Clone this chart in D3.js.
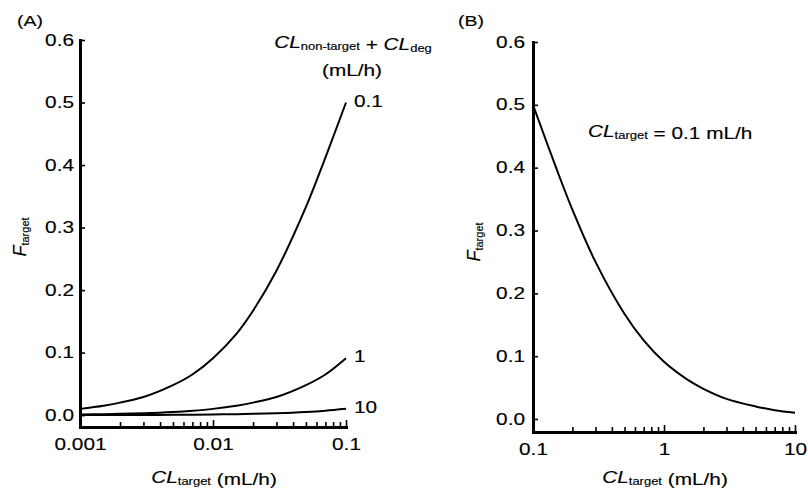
<!DOCTYPE html>
<html>
<head>
<meta charset="utf-8">
<script src="https://cdn.jsdelivr.net/npm/d3@7"></script>
<style>
  html, body { margin: 0; padding: 0; background: #fff; }
  svg { display: block; font-family: "Liberation Sans", Arial, sans-serif; }
  svg text { stroke: #000; stroke-width: 0.15; }
  .tick line { stroke: #000; stroke-width: 1.6; }
  .domain { stroke: #000; stroke-width: 3; stroke-linecap: square; }
  .curve { fill: none; stroke: #000; stroke-width: 2; }
</style>
</head>
<body>
<svg id="chart" width="808" height="491"></svg>
<script>
// ── Data ──────────────────────────────────────────────
// (A) F_target vs CL_target, one curve per CL_non-target + CL_deg
const clTarget = [0.001, 0.0015, 0.002, 0.003, 0.005, 0.007, 0.01, 0.015, 0.02, 0.03, 0.05, 0.07, 0.1];
const fOther01 = [0.010, 0.015, 0.020, 0.029, 0.048, 0.065, 0.091, 0.130, 0.167, 0.231, 0.333, 0.412, 0.500];
const fOther1  = [0.001, 0.0015, 0.002, 0.003, 0.005, 0.007, 0.010, 0.015, 0.020, 0.029, 0.048, 0.065, 0.091];
const fOther10 = [0.0001, 0.00015, 0.0002, 0.0003, 0.0005, 0.0007, 0.001, 0.0015, 0.002, 0.003, 0.005, 0.007, 0.010];
const otherLabels = ['0.1', '1', '10'];

// (B) F_target vs clearance, CL_target = 0.1 mL/h
const clB = [0.1, 0.15, 0.2, 0.3, 0.5, 0.7, 1, 1.5, 2, 3, 5, 7, 10];
const fB  = [0.500, 0.400, 0.333, 0.250, 0.167, 0.125, 0.091, 0.063, 0.048, 0.032, 0.020, 0.014, 0.010];

const yTicks = [0, 0.1, 0.2, 0.3, 0.4, 0.5, 0.6];
const xLabelsA = ['0.001', '0.01', '0.1'];
const xLabelsB = ['0.1', '1', '10'];

// ═══════════════════════════════════════════════════════
const svg = d3.select('#chart');
const SX = 1.3; // the scanned figure's type is wide

function stretch(sel) {
  sel.each(function () {
    const t = d3.select(this);
    const x = +t.attr('x') || 0, y = +t.attr('y') || 0;
    t.attr('x', null).attr('y', null)
      .attr('transform', `translate(${x},${y}) scale(${SX},1)`);
  });
}

function label(parent, x, y, parts, opts = {}) {
  const t = parent.append('text')
    .attr('x', x).attr('y', y)
    .attr('font-size', opts.size || 16)
    .attr('text-anchor', opts.anchor || 'start')
    .attr('fill', '#000');
  parts.forEach(p => {
    const ts = t.append('tspan').text(p.t);
    if (p.i) ts.attr('font-style', 'italic');
    if (p.sub) ts.attr('font-size', p.sub).attr('dy', p.dy || 2);
    if (p.up) ts.attr('dy', -p.up);
  });
  if (!opts.rotate) stretch(t);
  return t;
}

function panel(cfg) {
  const g = svg.append('g');
  const x = d3.scaleLog().domain(cfg.xDomain).range(cfg.xRange);
  const y = d3.scaleLinear().domain(cfg.yDomain).range(cfg.yRange);

  const isDecade = d => Math.abs(Math.log10(d) - Math.round(Math.log10(d))) < 1e-9;
  const decades = x.ticks().filter(isDecade);

  // y axis
  const gy = g.append('g')
    .attr('transform', `translate(${cfg.xRange[0]},0)`)
    .call(d3.axisLeft(y).tickValues(yTicks).tickFormat(d3.format('.1f'))
      .tickSizeInner(-5).tickSizeOuter(0).tickPadding(cfg.yPad));
  gy.selectAll('.tick text').attr('font-size', 16).attr('fill', '#000').attr('font-family', null)
    .each(function () {
      const t = d3.select(this);
      const xx = +t.attr('x');
      t.attr('x', null).attr('transform', `translate(${xx},0) scale(${SX},1)`);
    });

  // x axis
  const gx = g.append('g')
    .attr('transform', `translate(0,${cfg.yRange[0]})`)
    .call(d3.axisBottom(x).tickValues(x.ticks())
      .tickFormat(d => isDecade(d) ? cfg.xLabels[decades.indexOf(d)] : '')
      .tickSizeInner(-5).tickSizeOuter(0).tickPadding(12));
  gx.selectAll('.tick line').attr('y2', d => isDecade(d) ? -7 : -5);
  gx.selectAll('.tick text').attr('font-size', 16).attr('fill', '#000').attr('font-family', null)
    .each(function () {
      const t = d3.select(this);
      const yy = +t.attr('y');
      t.attr('y', null).attr('transform', `translate(0,${yy}) scale(${SX},1)`);
    });
  g.selectAll('.domain').attr('stroke', '#000');

  // curves
  const line = d3.line()
    .x(d => x(d[0])).y(d => y(d[1]))
    .curve(d3.curveCatmullRom.alpha(0.5));
  cfg.series.forEach((s, i) => {
    const pts = cfg.xs.map((v, k) => [v, s[k]]);
    g.append('path').attr('class', 'curve').attr('d', line(pts));
    if (cfg.seriesLabels) {
      const last = pts[pts.length - 1];
      label(g, x(last[0]) + 8, y(last[1]) + 4, [{ t: cfg.seriesLabels[i] }], { size: 16 });
    }
  });

  // axis titles
  const mid = (cfg.xRange[0] + cfg.xRange[1]) / 2;
  label(g, mid + 1, 483, [{ t: 'CL', i: true }, { t: 'target', sub: 10 }, { t: ' (mL/h)', dy: -2 }], { anchor: 'middle' });
  g.append('text')
    .attr('transform', `translate(${cfg.yTitleX},${cfg.yTitleY}) rotate(-90)`)
    .attr('text-anchor', 'middle').attr('font-size', 18).attr('fill', '#000')
    .call(t => {
      t.append('tspan').attr('font-style', 'italic').text('F');
      t.append('tspan').attr('font-size', 11).attr('dy', 3).text('target');
    });

  label(g, cfg.tagX, 26, [{ t: cfg.tag }], { size: 15 });
  return { g, x, y };
}

const A = panel({
  xDomain: [0.001, 0.1], xRange: [80, 346],
  yDomain: [-0.019, 0.6], yRange: [427, 40],
  yPad: 6, xLabels: xLabelsA,
  xs: clTarget, series: [fOther01, fOther1, fOther10], seriesLabels: otherLabels,
  yTitleX: 26, yTitleY: 237, tag: '(A)', tagX: 17
});

const B = panel({
  xDomain: [0.1, 10], xRange: [533, 795],
  yDomain: [-0.0207, 0.6], yRange: [432, 42],
  yPad: 8, xLabels: xLabelsB,
  xs: clB, series: [fB],
  yTitleX: 480, yTitleY: 242, tag: '(B)', tagX: 458
});

// legend title, panel A
label(A.g, 353, 48, [
  { t: 'CL', i: true }, { t: 'non-target', sub: 10 },
  { t: ' + ', dy: -2 }, { t: 'CL', i: true }, { t: 'deg', sub: 10 }
], { anchor: 'middle' });
label(A.g, 352, 76, [{ t: '(mL/h)' }], { anchor: 'middle' });

// annotation, panel B
label(B.g, 588, 137, [
  { t: 'CL', i: true }, { t: 'target', sub: 10 }, { t: ' = 0.1 mL/h', dy: -2 }
]);
</script>
</body>
</html>
